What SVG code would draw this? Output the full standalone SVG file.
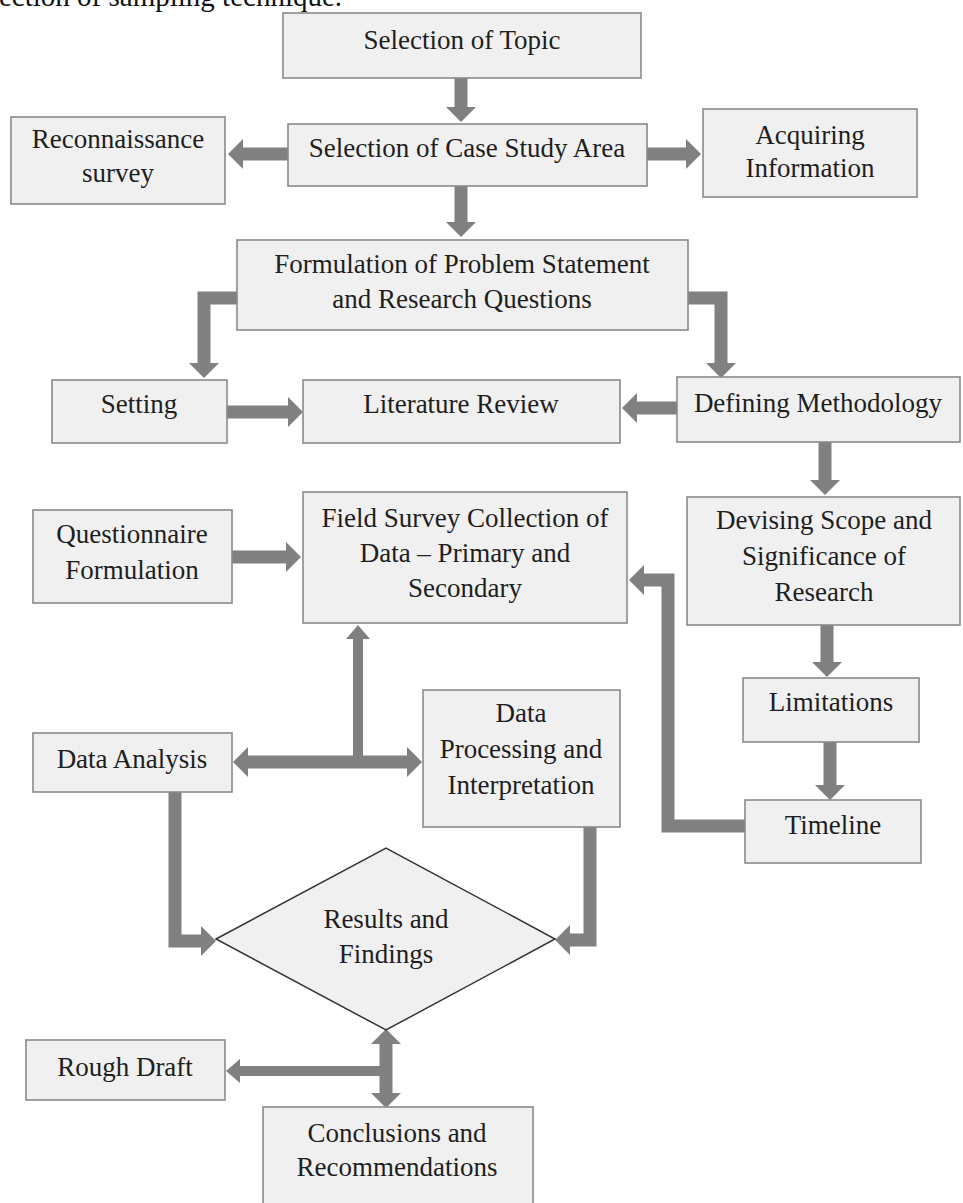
<svg xmlns="http://www.w3.org/2000/svg" width="963" height="1203" viewBox="0 0 963 1203">
<style>
.box{fill:#f0f0f0;stroke:#8a8a8a;stroke-width:1.6}
.dia{fill:#f0f0f0;stroke:#333;stroke-width:1.5}
.t{font-family:"Liberation Serif","Times New Roman",serif;font-size:27px;fill:#1e1e1e;text-anchor:middle}
.top{font-family:"Liberation Serif","Times New Roman",serif;font-size:29px;fill:#111}
.c{fill:none;stroke:#808080;stroke-width:13;stroke-linejoin:miter}
.thin{stroke-width:10}
</style>
<defs>
<marker id="ah" markerUnits="userSpaceOnUse" markerWidth="16" markerHeight="30" refX="0" refY="15" orient="auto-start-reverse" viewBox="0 0 16 30">
<path d="M0,0 L15,15 L0,30 Z" fill="#808080"/>
</marker>
<marker id="ahs" markerUnits="userSpaceOnUse" markerWidth="14" markerHeight="24" refX="0" refY="12" orient="auto-start-reverse" viewBox="0 0 14 24">
<path d="M0,0 L14,12 L0,24 Z" fill="#808080"/>
</marker>
</defs>
<rect width="963" height="1203" fill="#fff"/>
<text class="top" x="-1" y="6">ection of sampling technique.</text>

<g id="connectors">
<line class="c" x1="461" y1="78" x2="461" y2="107" marker-end="url(#ah)"/>
<line class="c" x1="288" y1="154" x2="243" y2="154" marker-end="url(#ah)"/>
<line class="c" x1="647" y1="154" x2="686" y2="154" marker-end="url(#ah)"/>
<line class="c" x1="461" y1="186" x2="461" y2="222" marker-end="url(#ah)"/>
<polyline class="c" points="237,298 204,298 204,363" marker-end="url(#ah)"/>
<polyline class="c" points="688,298 721,298 721,363" marker-end="url(#ah)"/>
<line class="c" x1="227" y1="412" x2="288" y2="412" marker-end="url(#ah)"/>
<line class="c" x1="677" y1="408" x2="637" y2="408" marker-end="url(#ah)"/>
<line class="c" x1="825" y1="442" x2="825" y2="480" marker-end="url(#ah)"/>
<line class="c" x1="827" y1="625" x2="827" y2="662" marker-end="url(#ah)"/>
<line class="c" x1="830" y1="742" x2="830" y2="785" marker-end="url(#ah)"/>
<polyline class="c" points="745,826 668,826 668,580 644,580" marker-end="url(#ah)"/>
<line class="c" x1="232" y1="557" x2="286" y2="557" marker-end="url(#ah)"/>
<line class="c" x1="248" y1="762" x2="407" y2="762" marker-start="url(#ah)" marker-end="url(#ah)"/>
<line class="c thin" x1="358" y1="762" x2="358" y2="639" marker-end="url(#ahs)"/>
<polyline class="c" points="175,792 175,941 201,941" marker-end="url(#ah)"/>
<polyline class="c" points="590,827 590,940 570,940" marker-end="url(#ah)"/>
<line class="c" x1="386" y1="1044" x2="386" y2="1093" marker-start="url(#ah)" marker-end="url(#ah)"/>
<line class="c thin" x1="386" y1="1071" x2="240" y2="1071" marker-end="url(#ahs)"/>
</g>

<g id="n-topic"><rect class="box" x="283" y="13" width="358" height="65"/><text class="t" x="462" y="49">Selection of Topic</text></g>
<g id="n-case"><rect class="box" x="288" y="124" width="359" height="62"/><text class="t" x="467" y="157">Selection of Case Study Area</text></g>
<g id="n-recon"><rect class="box" x="11" y="117" width="214" height="87"/><text class="t" x="118" y="148">Reconnaissance</text><text class="t" x="118" y="182">survey</text></g>
<g id="n-acq"><rect class="box" x="703" y="109" width="214" height="88"/><text class="t" x="810" y="144">Acquiring</text><text class="t" x="810" y="177">Information</text></g>
<g id="n-form"><rect class="box" x="237" y="240" width="451" height="90"/><text class="t" x="462" y="273">Formulation of Problem Statement</text><text class="t" x="462" y="308">and Research Questions</text></g>
<g id="n-setting"><rect class="box" x="52" y="380" width="175" height="63"/><text class="t" x="139" y="413">Setting</text></g>
<g id="n-lit"><rect class="box" x="303" y="380" width="317" height="63"/><text class="t" x="461" y="413">Literature Review</text></g>
<g id="n-method"><rect class="box" x="677" y="377" width="283" height="65"/><text class="t" x="818" y="412">Defining Methodology</text></g>
<g id="n-scope"><rect class="box" x="687" y="497" width="273" height="128"/><text class="t" x="824" y="529">Devising Scope and</text><text class="t" x="824" y="565">Significance of</text><text class="t" x="824" y="601">Research</text></g>
<g id="n-limit"><rect class="box" x="743" y="678" width="176" height="64"/><text class="t" x="831" y="711">Limitations</text></g>
<g id="n-timeline"><rect class="box" x="745" y="800" width="176" height="63"/><text class="t" x="833" y="834">Timeline</text></g>
<g id="n-field"><rect class="box" x="303" y="492" width="324" height="131"/><text class="t" x="465" y="527">Field Survey Collection of</text><text class="t" x="465" y="562">Data – Primary and</text><text class="t" x="465" y="597">Secondary</text></g>
<g id="n-quest"><rect class="box" x="33" y="510" width="199" height="93"/><text class="t" x="132" y="543">Questionnaire</text><text class="t" x="132" y="579">Formulation</text></g>
<g id="n-analysis"><rect class="box" x="33" y="733" width="199" height="59"/><text class="t" x="132" y="768">Data Analysis</text></g>
<g id="n-process"><rect class="box" x="423" y="690" width="197" height="137"/><text class="t" x="521" y="722">Data</text><text class="t" x="521" y="758">Processing and</text><text class="t" x="521" y="794">Interpretation</text></g>
<g id="n-results"><polygon class="dia" points="216,939 386,848 555,939 386,1030"/><text class="t" x="386" y="928">Results and</text><text class="t" x="386" y="963">Findings</text></g>
<g id="n-rough"><rect class="box" x="26" y="1040" width="199" height="60"/><text class="t" x="125" y="1076">Rough Draft</text></g>
<g id="n-concl"><rect class="box" x="263" y="1107" width="270" height="110"/><text class="t" x="397" y="1142">Conclusions and</text><text class="t" x="397" y="1176">Recommendations</text></g>
</svg>
